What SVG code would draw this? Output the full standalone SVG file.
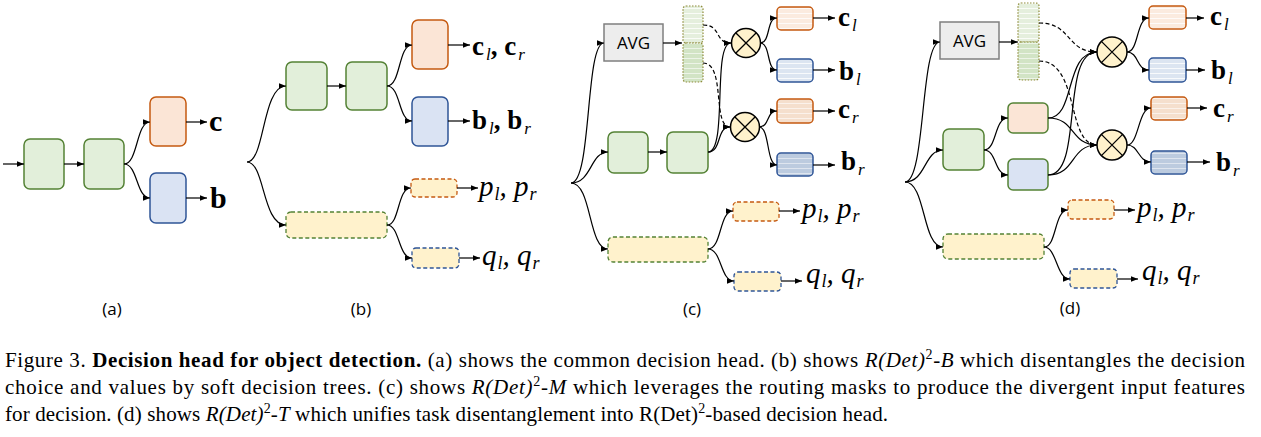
<svg xmlns="http://www.w3.org/2000/svg" width="1261" height="437" viewBox="0 0 1261 437">
<defs>
<marker id="ah" viewBox="0 0 10 10" refX="10" refY="5" markerWidth="7" markerHeight="7" markerUnits="userSpaceOnUse" orient="auto"><path d="M0,1 L10,5 L0,9 Z" fill="#000"/></marker>
<pattern id="sOL" patternUnits="userSpaceOnUse" width="10" height="5"><rect width="10" height="5" fill="#fbebdf"/><rect y="3" width="10" height="1" fill="#fff" opacity="0.8"/></pattern>
<pattern id="sOD" patternUnits="userSpaceOnUse" width="10" height="5"><rect width="10" height="5" fill="#f5dfcd"/><rect y="3" width="10" height="1" fill="#fff" opacity="0.6"/></pattern>
<pattern id="sBL" patternUnits="userSpaceOnUse" width="10" height="5"><rect width="10" height="5" fill="#dce5f1"/><rect y="3" width="10" height="1" fill="#fff" opacity="0.8"/></pattern>
<pattern id="sBD" patternUnits="userSpaceOnUse" width="10" height="5"><rect width="10" height="5" fill="#bccbdf"/><rect y="3" width="10" height="1" fill="#fff" opacity="0.5"/></pattern>
<pattern id="sGL" patternUnits="userSpaceOnUse" width="10" height="5"><rect width="10" height="5" fill="#e5efdd"/><rect y="3" width="10" height="1" fill="#fff" opacity="0.8"/></pattern>
<pattern id="sGD" patternUnits="userSpaceOnUse" width="10" height="5"><rect width="10" height="5" fill="#d2e4c5"/><rect y="3" width="10" height="1" fill="#fff" opacity="0.6"/></pattern>
</defs>
<style>
.g{fill:#e2efda;stroke:#548235;stroke-width:1.5}
.o{fill:#fbe5d6;stroke:#c55a11;stroke-width:1.5}
.bl{fill:#dae3f3;stroke:#2f5597;stroke-width:1.5}
.ol{fill:url(#sOL);stroke:#c55a11;stroke-width:1.5}
.od{fill:url(#sOD);stroke:#c55a11;stroke-width:1.5}
.bll{fill:url(#sBL);stroke:#2f5597;stroke-width:1.5}
.bld{fill:url(#sBD);stroke:#2f5597;stroke-width:1.5}
.yg{fill:#fff2cc;stroke:#548235;stroke-width:1.3;stroke-dasharray:4 2.5}
.yo{fill:#fff2cc;stroke:#c55a11;stroke-width:1.3;stroke-dasharray:4 2.5}
.yb{fill:#fff2cc;stroke:#2f5597;stroke-width:1.3;stroke-dasharray:4 2.5}
.pk{fill:#fbe5d6;stroke:#548235;stroke-width:1.5}
.bg{fill:#dae3f3;stroke:#548235;stroke-width:1.5}
.avg{fill:#ededed;stroke:#7f7f7f;stroke-width:1.5}
.cl{fill:url(#sGL);stroke:#8f8c3a;stroke-width:1.2;stroke-dasharray:1.5 1.5}
.cd{fill:url(#sGD);stroke:#8f8c3a;stroke-width:1.2;stroke-dasharray:1.5 1.5}
.ci{fill:#fff2cc;stroke:#000;stroke-width:1.5}
.c path,.c line{fill:none;stroke:#000;stroke-width:1.2}
.c .d{stroke-dasharray:4 2.5}
.a{marker-end:url(#ah)}
.lb{font-family:"Liberation Serif",serif;font-weight:bold;font-size:27px;fill:#000}
.lb .s{font-weight:normal;font-style:italic;font-size:17px}
.li{font-family:"Liberation Serif",serif;font-style:italic;font-size:29px;fill:#000}
.li .s{font-size:18px}
.pl{font-family:"Open Sans","Liberation Sans",sans-serif;font-size:17px;fill:#000;text-anchor:middle}
.cap{font-family:"Liberation Serif",serif;font-size:21px;fill:#000}
</style>

<!-- ===== Panel (a) ===== -->
<g id="a-g1"><rect class="g" x="24" y="139" width="40" height="50" rx="6"/></g>
<g id="a-g2"><rect class="g" x="84" y="139" width="40" height="50" rx="6"/></g>
<g id="a-c"><rect class="o" x="150" y="97" width="36" height="49" rx="6"/></g>
<g id="a-b"><rect class="bl" x="150" y="173" width="36" height="50" rx="6"/></g>
<text class="lb" x="209" y="131" style="font-size:30px">c</text>
<text class="lb" x="210" y="208" style="font-size:30px">b</text>

<!-- ===== Panel (b) ===== -->
<g id="b-g1"><rect class="g" x="286" y="62" width="41" height="48" rx="6"/></g>
<g id="b-g2"><rect class="g" x="346" y="62" width="41" height="48" rx="6"/></g>
<g id="b-c"><rect class="o" x="412" y="20" width="36" height="49" rx="6"/></g>
<g id="b-b"><rect class="bl" x="412" y="97" width="36" height="49" rx="6"/></g>
<g id="b-y"><rect class="yg" x="286" y="212" width="101" height="26" rx="5"/></g>
<g id="b-p"><rect class="yo" x="411" y="179" width="46" height="18" rx="4"/></g>
<g id="b-q"><rect class="yb" x="412" y="248" width="47" height="20" rx="4"/></g>
<text class="lb" x="472" y="55">c<tspan class="s" dx="2" dy="5">l</tspan><tspan dy="-5">, c</tspan><tspan class="s" dx="2" dy="5">r</tspan></text>
<text class="lb" x="472" y="129">b<tspan class="s" dx="2" dy="5">l</tspan><tspan dy="-5">, b</tspan><tspan class="s" dx="2" dy="5">r</tspan></text>
<text class="li" x="479" y="196">p<tspan class="s" dx="1" dy="4">l</tspan><tspan dy="-4">, p</tspan><tspan class="s" dx="1" dy="4">r</tspan></text>
<text class="li" x="482" y="265">q<tspan class="s" dx="1" dy="4">l</tspan><tspan dy="-4">, q</tspan><tspan class="s" dx="1" dy="4">r</tspan></text>

<!-- ===== Panel (c) ===== -->
<g id="c-avg"><rect class="avg" x="604" y="24" width="59" height="37"/><text class="pl" x="633.5" y="49">AVG</text></g>
<g id="c-col"><rect class="cl" x="683" y="6" width="20" height="37" rx="3"/><rect class="cd" x="683" y="43" width="20" height="39" rx="3"/></g>
<g id="c-x1"><circle class="ci" cx="746" cy="43" r="14.5"/><path d="M735.7,32.7 L756.3,53.3 M756.3,32.7 L735.7,53.3" stroke="#000" stroke-width="1.3"/></g>
<g id="c-x2"><circle class="ci" cx="745" cy="127" r="14.5"/><path d="M734.7,116.7 L755.3,137.3 M755.3,116.7 L734.7,137.3" stroke="#000" stroke-width="1.3"/></g>
<g id="c-cl"><rect class="ol" x="777" y="7" width="36" height="23" rx="4"/></g>
<g id="c-bl"><rect class="bll" x="777" y="59" width="36" height="23" rx="4"/></g>
<g id="c-cr"><rect class="od" x="777" y="99" width="36" height="24" rx="4"/></g>
<g id="c-br"><rect class="bld" x="777" y="153" width="36" height="23" rx="4"/></g>
<g id="c-g1"><rect class="g" x="608" y="132" width="40" height="41" rx="6"/></g>
<g id="c-g2"><rect class="g" x="667" y="132" width="41" height="41" rx="6"/></g>
<g id="c-y"><rect class="yg" x="608" y="237" width="100" height="25" rx="5"/></g>
<g id="c-p"><rect class="yo" x="733" y="202" width="46" height="19" rx="4"/></g>
<g id="c-q"><rect class="yb" x="734" y="272" width="47" height="19" rx="4"/></g>
<text class="lb" x="838" y="26">c<tspan class="s" dx="2" dy="5">l</tspan></text>
<text class="lb" x="839" y="80">b<tspan class="s" dx="2" dy="5">l</tspan></text>
<text class="lb" x="838" y="118">c<tspan class="s" dx="2" dy="5">r</tspan></text>
<text class="lb" x="841" y="170">b<tspan class="s" dx="2" dy="5">r</tspan></text>
<text class="li" x="802" y="218">p<tspan class="s" dx="1" dy="4">l</tspan><tspan dy="-4">, p</tspan><tspan class="s" dx="1" dy="4">r</tspan></text>
<text class="li" x="806" y="283">q<tspan class="s" dx="1" dy="4">l</tspan><tspan dy="-4">, q</tspan><tspan class="s" dx="1" dy="4">r</tspan></text>

<!-- ===== Panel (d) ===== -->
<g id="d-avg"><rect class="avg" x="940" y="22" width="59" height="37"/><text class="pl" x="969.5" y="47">AVG</text></g>
<g id="d-col"><rect class="cl" x="1018" y="3" width="21" height="39" rx="3"/><rect class="cd" x="1018" y="42" width="21" height="38" rx="3"/></g>
<g id="d-x1"><circle class="ci" cx="1112" cy="52" r="15"/><path d="M1101.4,41.4 L1122.6,62.6 M1122.6,41.4 L1101.4,62.6" stroke="#000" stroke-width="1.3"/></g>
<g id="d-x2"><circle class="ci" cx="1112" cy="145" r="15"/><path d="M1101.4,134.4 L1122.6,155.6 M1122.6,134.4 L1101.4,155.6" stroke="#000" stroke-width="1.3"/></g>
<g id="d-cl"><rect class="ol" x="1149" y="6" width="37" height="23" rx="4"/></g>
<g id="d-bl"><rect class="bll" x="1149" y="58" width="37" height="24" rx="4"/></g>
<g id="d-cr"><rect class="od" x="1151" y="97" width="36" height="23" rx="4"/></g>
<g id="d-br"><rect class="bld" x="1151" y="151" width="36" height="23" rx="4"/></g>
<g id="d-g"><rect class="g" x="943" y="129" width="41" height="41" rx="6"/></g>
<g id="d-pk"><rect class="pk" x="1008" y="103" width="40" height="30" rx="5"/></g>
<g id="d-bg"><rect class="bg" x="1008" y="159" width="40" height="31" rx="5"/></g>
<g id="d-y"><rect class="yg" x="943" y="234" width="101" height="25" rx="5"/></g>
<g id="d-p"><rect class="yo" x="1068" y="200" width="46" height="19" rx="4"/></g>
<g id="d-q"><rect class="yb" x="1070" y="269" width="47" height="19" rx="4"/></g>
<text class="lb" x="1210" y="25">c<tspan class="s" dx="2" dy="5">l</tspan></text>
<text class="lb" x="1211" y="79">b<tspan class="s" dx="2" dy="5">l</tspan></text>
<text class="lb" x="1213" y="117">c<tspan class="s" dx="2" dy="5">r</tspan></text>
<text class="lb" x="1216" y="171">b<tspan class="s" dx="2" dy="5">r</tspan></text>
<text class="li" x="1137" y="217">p<tspan class="s" dx="1" dy="4">l</tspan><tspan dy="-4">, p</tspan><tspan class="s" dx="1" dy="4">r</tspan></text>
<text class="li" x="1142" y="280">q<tspan class="s" dx="1" dy="4">l</tspan><tspan dy="-4">, q</tspan><tspan class="s" dx="1" dy="4">r</tspan></text>

<!-- ===== Connectors ===== -->
<g id="connectors" class="c">
<!-- (a) -->
<path class="a" d="M3,164 H24"/>
<path class="a" d="M64,164 H84"/>
<path class="a" d="M124,164 C138,164 136,122 150,122"/>
<path class="a" d="M124,164 C138,164 136,198 150,198"/>
<path class="a" d="M186,122 H207"/>
<path class="a" d="M186,198 H207"/>
<!-- (b) -->
<path class="a" d="M247,162 C265,162 262,86 286,86"/>
<path class="a" d="M247,162 C265,162 262,225 286,225"/>
<path class="a" d="M327,86 H346"/>
<path class="a" d="M387,86 C401,86 398,45 412,45"/>
<path class="a" d="M387,86 C401,86 398,121 412,121"/>
<path class="a" d="M448,45 H470"/>
<path class="a" d="M448,121 H470"/>
<path class="a" d="M387,225 C400,225 397,188 411,188"/>
<path class="a" d="M387,225 C400,225 398,258 412,258"/>
<path class="a" d="M457,188 H478"/>
<path class="a" d="M459,258 H480"/>
<!-- (c) -->
<path class="a" d="M571,183 C592,183 585,43 604,43"/>
<path class="a" d="M571,183 C592,183 590,152 608,152"/>
<path class="a" d="M571,183 C592,183 588,249 608,249"/>
<path class="a" d="M663,43 H682"/>
<path class="a" d="M648,152 H667"/>
<path class="d a" d="M703,25 C722,25 714,43 731,43"/>
<path class="d a" d="M703,63 C726,63 712,127 730,127"/>
<path class="a" d="M708,152 C728,152 712,43 731,43"/>
<path class="a" d="M708,152 C722,152 716,127 730,127"/>
<path class="a" d="M760,43 C771,43 766,18 777,18"/>
<path class="a" d="M760,43 C771,43 766,70 777,70"/>
<path class="a" d="M759,127 C770,127 766,111 777,111"/>
<path class="a" d="M759,127 C770,127 766,165 777,165"/>
<path class="a" d="M813,18 H835"/>
<path class="a" d="M813,70 H835"/>
<path class="a" d="M813,111 H835"/>
<path class="a" d="M813,165 H835"/>
<path class="a" d="M708,249 C722,249 719,211 733,211"/>
<path class="a" d="M708,249 C722,249 720,281 734,281"/>
<path class="a" d="M779,211 H800"/>
<path class="a" d="M781,281 H802"/>
<!-- (d) -->
<path class="a" d="M905,182 C926,182 920,42 940,42"/>
<path class="a" d="M905,182 C926,182 924,150 943,150"/>
<path class="a" d="M905,182 C926,182 922,247 943,247"/>
<path class="a" d="M999,42 H1018"/>
<path class="a" d="M984,150 C997,150 994,118 1008,118"/>
<path class="a" d="M984,150 C997,150 994,175 1008,175"/>
<path class="d a" d="M1039,23 C1072,23 1066,52 1097,52"/>
<path class="d a" d="M1039,61 C1080,61 1066,145 1097,145"/>
<path class="a" d="M1048,118 C1076,118 1064,52 1097,52"/>
<path class="a" d="M1048,118 C1076,118 1070,145 1097,145"/>
<path class="a" d="M1048,175 C1084,175 1060,52 1097,52"/>
<path class="a" d="M1048,175 C1076,175 1070,145 1097,145"/>
<path class="a" d="M1127,52 C1139,52 1136,18 1149,18"/>
<path class="a" d="M1127,52 C1139,52 1136,70 1149,70"/>
<path class="a" d="M1127,145 C1139,145 1138,108 1151,108"/>
<path class="a" d="M1127,145 C1139,145 1138,162 1151,162"/>
<path class="a" d="M1186,18 H1204"/>
<path class="a" d="M1186,70 H1205"/>
<path class="a" d="M1187,108 H1207"/>
<path class="a" d="M1187,162 H1210"/>
<path class="a" d="M1044,247 C1057,247 1054,210 1068,210"/>
<path class="a" d="M1044,247 C1057,247 1056,279 1070,279"/>
<path class="a" d="M1114,210 H1135"/>
<path class="a" d="M1117,279 H1138"/>
</g>

<!-- panel labels -->
<text class="pl" x="112" y="315">(a)</text>
<text class="pl" x="361" y="315">(b)</text>
<text class="pl" x="692" y="315">(c)</text>
<text class="pl" x="1070" y="314">(d)</text>

<!-- caption -->
<text class="cap" x="5" y="367" textLength="1240" lengthAdjust="spacing">Figure 3. <tspan font-weight="bold">Decision head for object detection.</tspan> (a) shows the common decision head. (b) shows <tspan font-style="italic">R(Det)</tspan><tspan font-size="14" dy="-8">2</tspan><tspan dy="8" font-style="italic">-B</tspan> which disentangles the decision</text>
<text class="cap" x="5" y="394" textLength="1240" lengthAdjust="spacing">choice and values by soft decision trees. (c) shows <tspan font-style="italic">R(Det)</tspan><tspan font-size="14" dy="-8">2</tspan><tspan dy="8" font-style="italic">-M</tspan> which leverages the routing masks to produce the divergent input features</text>
<text class="cap" x="5" y="421" textLength="883" lengthAdjust="spacing">for decision. (d) shows <tspan font-style="italic">R(Det)</tspan><tspan font-size="14" dy="-8">2</tspan><tspan dy="8" font-style="italic">-T</tspan> which unifies task disentanglement into R(Det)<tspan font-size="14" dy="-8">2</tspan><tspan dy="8">-based decision head.</tspan></text>
</svg>
